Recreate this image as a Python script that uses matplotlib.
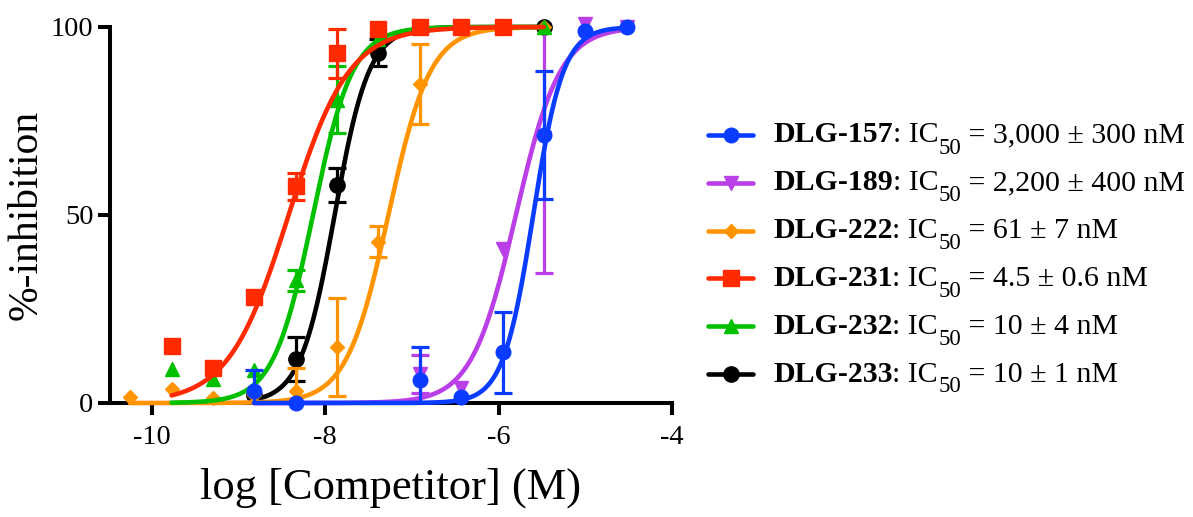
import numpy as np
import matplotlib
matplotlib.use("Agg")
import matplotlib.pyplot as plt

plt.rcParams['font.family'] = ['Liberation Serif', 'DejaVu Serif']
plt.rcParams['axes.unicode_minus'] = False

W, H = 1193, 517

# ---------------- data ----------------
names = ["DLG-157", "DLG-189", "DLG-222", "DLG-231", "DLG-232", "DLG-233"]
ic50_text = ["3,000 \u00b1 300 nM", "2,200 \u00b1 400 nM", "61 \u00b1 7 nM",
             "4.5 \u00b1 0.6 nM", "10 \u00b1 4 nM", "10 \u00b1 1 nM"]
colors = ["#0a3cff", "#bb3fe6", "#ff9400", "#ff2a00", "#00c000", "#000000"]
markers = ["o", "v", "D", "s", "^", "o"]

x157 = [-8.82, -8.34, -6.91, -6.43, -5.95, -5.48, -5.00, -4.52]
y157 = [3.2, 0.0, 6.1, 1.6, 13.5, 71.2, 99.0, 100.0]
e157 = [5.6, 0.0, 8.7, 0.0, 10.8, 17.0, 0.0, 0.0]

x189 = [-6.91, -6.43, -5.95, -5.48, -5.00, -4.52]
y189 = [7.7, 4.0, 41.0, 70.5, 100.8, 100.0]
e189 = [5.1, 0.0, 0.0, 36.0, 0.0, 0.0]

x222 = [-10.25, -9.77, -9.29, -8.82, -8.34, -7.86, -7.39, -6.91, -6.43, -5.95, -5.48]
y222 = [1.6, 3.8, 1.2, 2.0, 3.2, 14.8, 42.9, 84.8, 100.0, 100.0, 100.0]
e222 = [0.0, 0.0, 0.0, 0.0, 6.2, 13.0, 4.2, 10.7, 0.0, 0.0, 0.0]

x231 = [-9.77, -9.29, -8.82, -8.34, -7.86, -7.39, -6.91, -6.43, -5.95]
y231 = [15.2, 9.4, 28.2, 57.6, 93.0, 99.6, 100.0, 100.0, 100.0]
e231 = [0.0, 0.0, 0.0, 3.5, 6.5, 0.0, 0.0, 0.0, 0.0]

x232 = [-9.77, -9.29, -8.82, -8.34, -7.86, -7.39, -6.91, -6.43, -5.95, -5.48]
y232 = [9.0, 6.3, 8.9, 32.6, 80.7, 96.8, 100.0, 100.0, 100.0, 100.0]
e232 = [0.0, 0.0, 0.0, 2.9, 9.0, 0.0, 0.0, 0.0, 0.0, 0.0]

x233 = [-8.82, -8.34, -7.86, -7.39, -6.91, -6.43, -5.95, -5.48]
y233 = [2.0, 11.7, 58.0, 93.2, 100.0, 100.0, 100.0, 100.0]
e233 = [0.0, 5.8, 4.5, 3.5, 0.0, 0.0, 0.0, 0.0]

# fitted curve parameters (logIC50, Hill slope) and plotted range
fit_logic50 = [-5.60, -5.80, -7.27, -8.42, -8.14, -7.89]
fit_hill = [2.5, 1.7, 1.8, 1.25, 1.9, 2.2]
fit_range = [(-8.82, -4.52), (-8.82, -4.52), (-10.25, -5.48),
             (-9.77, -5.48), (-9.77, -5.48), (-8.82, -5.48)]

xs = [x157, x189, x222, x231, x232, x233]
ys = [y157, y189, y222, y231, y232, y233]
es = [e157, e189, e222, e231, e232, e233]
msizes = [10.5, 10.5, 7.0, 11.0, 10.5, 11.0]
zorders = [16, 11, 12, 14, 13, 10]

xticks = [-10, -8, -6, -4]
yticks = [0, 50, 100]

# ---------------- figure ----------------
fig = plt.figure(figsize=(W / 100, H / 100), dpi=100)
ax_l, ax_r, ax_t, ax_b = 110, 672, 27, 403
ax = fig.add_axes([ax_l / W, 1 - ax_b / H, (ax_r - ax_l) / W, (ax_b - ax_t) / H])

for i in range(6):
    lo, hi = fit_range[i]
    xx = np.linspace(lo, hi, 300)
    yy = 100.0 / (1.0 + 10 ** ((fit_logic50[i] - xx) * fit_hill[i]))
    ax.plot(xx, yy, color=colors[i], lw=3.3, zorder=zorders[i], clip_on=False,
            solid_capstyle='round')
    x = np.array(xs[i]); y = np.array(ys[i]); e = np.array(es[i])
    m = e > 0
    ax.errorbar(x[m], y[m], yerr=e[m], fmt='none', ecolor=colors[i],
                elinewidth=2.3, capsize=6.5, capthick=2.3, zorder=zorders[i])
    ax.plot(x, y, ls='none', marker=markers[i], ms=msizes[i], color=colors[i],
            mec=colors[i], zorder=zorders[i] + 0.5, clip_on=False)

ax.set_xlim(-10.48, -4)
ax.set_ylim(0, 100)
ax.set_xticks(xticks)
ax.set_xticklabels([str(t) for t in xticks])
ax.set_yticks(yticks)
ax.set_yticklabels([str(t) for t in yticks])
for s in ['top', 'right']:
    ax.spines[s].set_visible(False)
for s in ['left', 'bottom']:
    ax.spines[s].set_linewidth(2.9)
    ax.spines[s].set_capstyle('projecting')
ax.tick_params(axis='both', direction='out', length=8.5, width=2.9,
               labelsize=20.5, pad=3.5)
ax.tick_params(axis='x', pad=7)
ax.set_xlabel("log [Competitor] (M)", fontsize=32, labelpad=13)
ax.set_ylabel("%-inhibition", fontsize=30, labelpad=4)

# ---------------- legend (manual) ----------------
lax = fig.add_axes([0, 0, 1, 1])
lax.set_xlim(0, W)
lax.set_ylim(H, 0)
lax.axis('off')
fig.canvas.draw()
renderer = fig.canvas.get_renderer()

leg_y0, leg_dy = 135, 47.8
for i in range(6):
    yl = leg_y0 + i * leg_dy
    lax.plot([708, 753], [yl, yl], color=colors[i], lw=3.3, solid_capstyle='round')
    lax.plot([730.5], [yl], marker=markers[i], ms=msizes[i], color=colors[i], ls='none')
    base = yl + 7.5
    t1 = lax.text(773, base, names[i], fontsize=21.5, fontweight='bold',
                  va='baseline', ha='left')
    x1 = t1.get_window_extent(renderer).x1
    t2 = lax.text(x1, base, ": IC", fontsize=21.5, va='baseline', ha='left')
    x2 = t2.get_window_extent(renderer).x1
    t3 = lax.text(x2, base + 11, "50", fontsize=16.5, va='baseline', ha='left')
    x3 = t3.get_window_extent(renderer).x1
    lax.text(x3, base, " = " + ic50_text[i], fontsize=21.5, va='baseline', ha='left')

fig.savefig("out.png", dpi=100)
